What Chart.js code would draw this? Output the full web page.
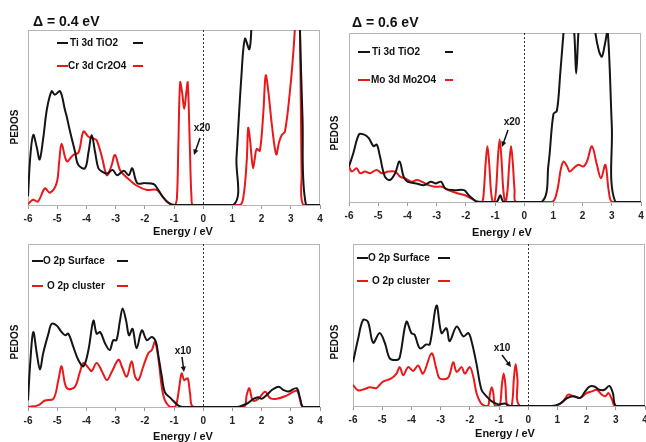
<!DOCTYPE html>
<html>
<head>
<meta charset="utf-8">
<script src="https://cdn.jsdelivr.net/npm/chart.js@4.4.1/dist/chart.umd.min.js"></script>
<style>
  body { margin: 0; background: #fff; }
  #wrap { position: relative; width: 646px; height: 442px; }
  #wrap canvas { position: absolute; left: 0; top: 0; }
</style>
</head>
<body>
<div id="wrap"></div>
<script>
// x axis ticks (energy, eV)
const xTicks = [-6, -5, -4, -3, -2, -1, 0, 1, 2, 3, 4];

// panel 1 : Δ = 0.4 eV
const p1TiE = [-6,-5.92,-5.82,-5.7,-5.6,-5.48,-5.35,-5.19,-5.08,-4.9,-4.73,-4.68,-4.56,-4.39,-4.28,-4.05,-3.93,-3.82,-3.7,-3.59,-3.45,-3.3,-3.1,-2.95,-2.72,-2.55,-2.43,-2.26,-2.0,-1.7,-1.55,-1.4,-1.17,-1.0,1.03,1.14,1.31,1.43,1.58,1.65,1.8,2.5,3.2,3.31,3.4,3.52,4];
const p1TiV = [5,28,40,33,26,38,55,65,63,65,54,51,42,30.5,23,21,30,40,30,21,19,18,20,17,19.6,17,21,12.5,12.5,12,9,5,1,0,0,27,74,95,89,101,160,200,160,101,50,0,0];
const p1CrE = [-6,-5.83,-5.66,-5.42,-5.25,-5.02,-4.93,-4.85,-4.67,-4.45,-4.27,-4.1,-3.93,-3.76,-3.65,-3.47,-3.3,-3.15,-3.02,-2.85,-2.7,-2.5,-2.27,-1.93,-1.58,-1.4,-1.25,-1.1,-0.97,-0.9,-0.85,-0.79,-0.72,-0.65,-0.58,-0.53,-0.46,-0.4,-0.34,1.25,1.38,1.49,1.54,1.6,1.66,1.71,1.77,1.83,1.94,2.06,2.14,2.23,2.35,2.5,2.6,2.69,2.8,2.97,3.09,3.17,3.24,3.31,3.37,3.43,4];
const p1CrV = [0.5,3,2,9.5,7,12.5,25,35,25,28.6,30,42,39,38,37,27.6,17,22,28.6,20,17,14,11,8.6,8.6,5,2,0.5,0,4,35,70,64,55,64,70,35,4,0,0,5,25,44,38,27,21,27,32,31,53,74,65,46,29,36,40,42,65,88,110,140,110,17,0,0];

// panel 2 : Δ = 0.6 eV
const p2TiE = [-6,-5.85,-5.66,-5.5,-5.33,-5.16,-5.05,-4.94,-4.77,-4.6,-4.42,-4.27,-4.13,-4.0,-3.7,-3.42,-3.2,-3.02,-2.85,-2.7,-2.4,-2.06,-1.9,-1.65,-1.4,-0.95,-0.82,-0.7,0.6,0.83,1.0,1.12,1.23,1.35,1.5,1.71,1.78,1.86,2.1,2.43,2.55,2.66,2.76,2.86,3.0,3.12,4];
const p2TiV = [21,29,40,40,38,33,34,27,15,13,17,24,15,12,11,10,12,11,12,8,7,7,4,0.5,0,0,4,0,0,22,52,54,75,101,130,101,76,101,150,101,90,86,93,101,45,0,0];
const p2MoE = [-6,-5.9,-5.74,-5.62,-5.45,-5.28,-5.05,-4.88,-4.65,-4.42,-4.25,-4.08,-3.85,-3.68,-3.5,-3.28,-3.05,-2.82,-2.6,-2.26,-2.03,-1.8,-1.6,-1.44,-1.38,-1.32,-1.26,-1.2,-1.14,-1.08,-1.02,-0.96,-0.9,-0.84,-0.78,-0.72,-0.66,-0.63,-0.57,-0.51,-0.45,-0.39,-0.33,-0.27,0.95,1.12,1.26,1.35,1.47,1.56,1.69,1.86,2.03,2.15,2.32,2.49,2.63,2.78,2.9,3.02,4];
const p2MoV = [21,18,20,17,18,17,19,17,18,18,15,14,12,13,12,10,9,9,7,5,4,2,0,0,7,23,33,23,7,0,0,8,26,37,26,8,0,0,7,23,33,23,7,0,0,6,20,24,21,18,20,22,21,24,33,22,14,22,6,0,0];

// panel 3 : O 2p, Δ = 0.4 eV
const p3SurfE = [-6,-5.92,-5.82,-5.7,-5.59,-5.48,-5.3,-5.19,-5.02,-4.85,-4.72,-4.62,-4.45,-4.28,-4.1,-3.93,-3.76,-3.65,-3.53,-3.36,-3.2,-3.08,-2.97,-2.85,-2.76,-2.64,-2.54,-2.42,-2.28,-2.1,-1.93,-1.76,-1.62,-1.54,-1.42,-1.31,-1.09,-0.86,-0.7,1.15,1.49,1.72,1.89,2.0,2.18,2.35,2.58,2.75,2.92,3.2,3.31,3.43,4];
const p3SurfV = [4,28,46,33,23,33,45,51,50,46,44,45,37,29,25,35,53,45,46,39,35,41,41,53,60.5,53,44,48,36,47,41,43,40,32,19,9,5,1,0,0,2,5,6,5,7.4,10.4,12.5,10.4,9.5,11.5,6,0,0];
const p3ClusE = [-6,-5.66,-5.42,-5.13,-4.96,-4.85,-4.73,-4.62,-4.39,-4.22,-4.1,-3.93,-3.82,-3.65,-3.47,-3.3,-3.13,-2.9,-2.79,-2.62,-2.45,-2.33,-2.22,-2.05,-1.88,-1.76,-1.65,-1.53,-1.42,-1.31,-1.13,-0.96,-0.85,-0.74,-0.65,-0.53,-0.45,-0.33,1.38,1.49,1.58,1.7,1.89,2.12,2.29,2.52,2.86,3.2,3.31,3.41,4];
const p3ClusV = [0,1,4,5,16.5,25,14,11,12.5,21.6,27,24,22,27,22,16.5,21.6,29,25,18.6,28,18.6,16.5,25,33,35,40,29,12.5,4,0,0,8.4,20.6,16.5,17.6,8.4,0,0,7.4,11.5,4,5,9.4,5.5,5,7,10,5,0,0];

// panel 4 : O 2p, Δ = 0.6 eV
const p4SurfE = [-6,-5.83,-5.66,-5.49,-5.31,-5.09,-4.91,-4.74,-4.51,-4.4,-4.17,-4.0,-3.89,-3.71,-3.49,-3.37,-3.14,-2.97,-2.8,-2.69,-2.45,-2.22,-2.05,-1.94,-1.77,-1.6,-1.43,-1.26,-1.03,-0.8,-0.6,0.8,1.09,1.32,1.55,1.78,1.95,2.1,2.27,2.44,2.61,2.78,2.9,3.02,4];
const p4SurfV = [27,41,53,52,39,45,39,29.4,28.4,30,52,45,44,35.6,38,38,62,45,48,40,49,43,45,40,26,10,6,3,1,1.5,0,0,1.5,4.7,6,5,9,12,12,10,10,12.4,8,0,0];
const p4ClusE = [-6,-5.83,-5.6,-5.43,-5.2,-5.09,-4.97,-4.69,-4.51,-4.4,-4.28,-4.11,-3.94,-3.77,-3.6,-3.31,-3.14,-3.03,-2.74,-2.57,-2.45,-2.28,-2.17,-2.0,-1.88,-1.77,-1.63,-1.48,-1.37,-1.31,-1.25,-1.19,-1.14,-0.98,-0.9,-0.84,-0.78,-0.72,-0.57,-0.49,-0.43,-0.37,-0.28,0.92,1.2,1.37,1.55,1.78,2.0,2.18,2.35,2.52,2.64,2.75,2.87,2.98,4];
const p4ClusV = [13,9.7,10.5,11.5,11,13,15,17,20,24,19,24,21.6,25,20,32.5,22.6,17,17.5,27,21,24,20,24,18,8,2,0,0,7.5,11.5,7.5,0,0,13,20,13,0,0,17,26,17,0,0,3,7,6,5,8,9,10,7,6,8,4,0,0];

const FONT = '"Liberation Sans", Arial, sans-serif';
const BLACK = '#151515';
const RED = '#e8191b';
const W = 646, H = 442;

const toPts = (E, V) => E.map((e, i) => ({ x: e, y: V[i] }));

const panels = [
  {
    area: { l: 28, t: 30, r: 320, b: 205 },
    title: { text: 'Δ = 0.4 eV', x: 33, y: 22 },
    series: [
      { label: 'Ti 3d TiO2', color: BLACK, E: p1TiE, V: p1TiV, ly: 43, l1: 57, l2: 68, tx: 70, d1: 133, d2: 143 },
      { label: 'Cr 3d Cr2O4', color: RED, E: p1CrE, V: p1CrV, ly: 66, l1: 57, l2: 68, tx: 68, d1: 133, d2: 143 },
    ],
    note: { text: 'x20', x: 202, y: 128, x1: 200, y1: 138, x2: 194, y2: 155 },
    pedos: { x: 15, y: 127 },
    xTitle: { x: 183, y: 232 },
  },
  {
    area: { l: 349, t: 33, r: 641, b: 202 },
    title: { text: 'Δ = 0.6 eV', x: 352, y: 23 },
    series: [
      { label: 'Ti 3d TiO2', color: BLACK, E: p2TiE, V: p2TiV, ly: 52, l1: 358, l2: 370, tx: 372, d1: 445, d2: 453 },
      { label: 'Mo 3d Mo2O4', color: RED, E: p2MoE, V: p2MoV, ly: 80, l1: 358, l2: 370, tx: 371, d1: 445, d2: 453 },
    ],
    note: { text: 'x20', x: 512, y: 122, x1: 508, y1: 130, x2: 502, y2: 147 },
    pedos: { x: 335, y: 133 },
    xTitle: { x: 502, y: 233 },
  },
  {
    area: { l: 28, t: 244, r: 320, b: 407 },
    series: [
      { label: 'O 2p Surface', color: BLACK, E: p3SurfE, V: p3SurfV, ly: 261, l1: 32, l2: 43, tx: 43, d1: 117, d2: 128 },
      { label: 'O 2p cluster', color: RED, E: p3ClusE, V: p3ClusV, ly: 286, l1: 32, l2: 43, tx: 47, d1: 117, d2: 128 },
    ],
    note: { text: 'x10', x: 183, y: 351, x1: 182, y1: 357, x2: 184, y2: 372 },
    pedos: { x: 15, y: 342 },
    xTitle: { x: 183, y: 437 },
  },
  {
    area: { l: 353, t: 244, r: 645, b: 406 },
    series: [
      { label: 'O 2p Surface', color: BLACK, E: p4SurfE, V: p4SurfV, ly: 258, l1: 357, l2: 368, tx: 368, d1: 438, d2: 450 },
      { label: 'O 2p cluster', color: RED, E: p4ClusE, V: p4ClusV, ly: 281, l1: 357, l2: 368, tx: 372, d1: 438, d2: 450 },
    ],
    note: { text: 'x10', x: 502, y: 348, x1: 502, y1: 355, x2: 511, y2: 367 },
    pedos: { x: 335, y: 342 },
    xTitle: { x: 505, y: 434 },
  },
];

function arrow(ctx, x1, y1, x2, y2) {
  const ang = Math.atan2(y2 - y1, x2 - x1);
  ctx.strokeStyle = '#111';
  ctx.fillStyle = '#111';
  ctx.lineWidth = 1.5;
  ctx.beginPath();
  ctx.moveTo(x1, y1);
  ctx.lineTo(x2 - 3 * Math.cos(ang), y2 - 3 * Math.sin(ang));
  ctx.stroke();
  ctx.beginPath();
  ctx.moveTo(x2, y2);
  ctx.lineTo(x2 - 6 * Math.cos(ang - 0.45), y2 - 6 * Math.sin(ang - 0.45));
  ctx.lineTo(x2 - 6 * Math.cos(ang + 0.45), y2 - 6 * Math.sin(ang + 0.45));
  ctx.closePath();
  ctx.fill();
}

function decoPlugin(p) {
  return {
    id: 'deco',
    beforeDatasetsDraw(chart) {
      const { ctx, chartArea: a, scales } = chart;
      ctx.save();
      ctx.strokeStyle = '#b5b5b5';
      ctx.lineWidth = 1;
      ctx.strokeRect(a.left + 0.5, a.top + 0.5, a.right - a.left - 1, a.bottom - a.top);
      const x0 = Math.round(scales.x.getPixelForValue(0)) + 0.5;
      ctx.strokeStyle = '#333';
      ctx.setLineDash([2, 2]);
      ctx.beginPath();
      ctx.moveTo(x0, a.top);
      ctx.lineTo(x0, a.bottom);
      ctx.stroke();
      ctx.restore();
    },
    afterDraw(chart) {
      const ctx = chart.ctx;
      ctx.save();
      ctx.textBaseline = 'middle';
      ctx.fillStyle = '#111';
      if (p.title) {
        ctx.font = 'bold 14px ' + FONT;
        ctx.textAlign = 'left';
        ctx.fillText(p.title.text, p.title.x, p.title.y);
      }
      // legend, Excel style with a trailing dash
      p.series.forEach(s => {
        ctx.strokeStyle = s.color;
        ctx.lineWidth = 2;
        ctx.beginPath();
        ctx.moveTo(s.l1, s.ly); ctx.lineTo(s.l2, s.ly);
        ctx.moveTo(s.d1, s.ly); ctx.lineTo(s.d2, s.ly);
        ctx.stroke();
        ctx.fillStyle = '#111';
        ctx.font = 'bold 10px ' + FONT;
        ctx.textAlign = 'left';
        ctx.fillText(s.label, s.tx, s.ly);
      });
      ctx.font = 'bold 10px ' + FONT;
      ctx.textAlign = 'center';
      ctx.fillText(p.note.text, p.note.x, p.note.y);
      arrow(ctx, p.note.x1, p.note.y1, p.note.x2, p.note.y2);

      ctx.font = 'bold 11px ' + FONT;
      ctx.fillStyle = '#111';
      ctx.fillText('Energy / eV', p.xTitle.x, p.xTitle.y);

      ctx.translate(p.pedos.x, p.pedos.y);
      ctx.rotate(-Math.PI / 2);
      ctx.font = 'bold 10px ' + FONT;
      ctx.fillText('PEDOS', 0, 0);
      ctx.restore();
    }
  };
}

const AXIS_H = 20;
const wrap = document.getElementById('wrap');

panels.forEach(p => {
  const canvas = document.createElement('canvas');
  canvas.width = W;
  canvas.height = H;
  wrap.appendChild(canvas);

  const datasets = p.series.map(s => ({
    label: s.label,
    data: toPts(s.E, s.V),
    borderColor: s.color,
    borderWidth: 2,
    pointRadius: 0,
    fill: false,
    tension: 0.35,
  }));

  new Chart(canvas.getContext('2d'), {
    type: 'line',
    data: { datasets },
    options: {
      responsive: false,
      animation: false,
      events: [],
      layout: {
        padding: {
          left: p.area.l,
          top: p.area.t,
          right: W - p.area.r,
          bottom: H - p.area.b - AXIS_H,
        },
      },
      plugins: { legend: { display: false }, tooltip: { enabled: false } },
      scales: {
        x: {
          type: 'linear',
          min: xTicks[0],
          max: xTicks[xTicks.length - 1],
          afterBuildTicks: s => { s.ticks = xTicks.map(v => ({ value: v })); },
          afterFit: s => { s.height = AXIS_H; s.paddingLeft = 0; s.paddingRight = 0; },
          ticks: {
            autoSkip: false,
            maxRotation: 0,
            padding: 4,
            color: '#222',
            font: { family: FONT, size: 10, weight: 'bold' },
          },
          grid: { drawOnChartArea: false, drawTicks: true, tickLength: 4, color: '#9a9a9a' },
          border: { display: true, color: '#9a9a9a' },
        },
        y: { display: false, min: 0, max: 100 },
      },
    },
    plugins: [decoPlugin(p)],
  });
});
</script>
</body>
</html>
